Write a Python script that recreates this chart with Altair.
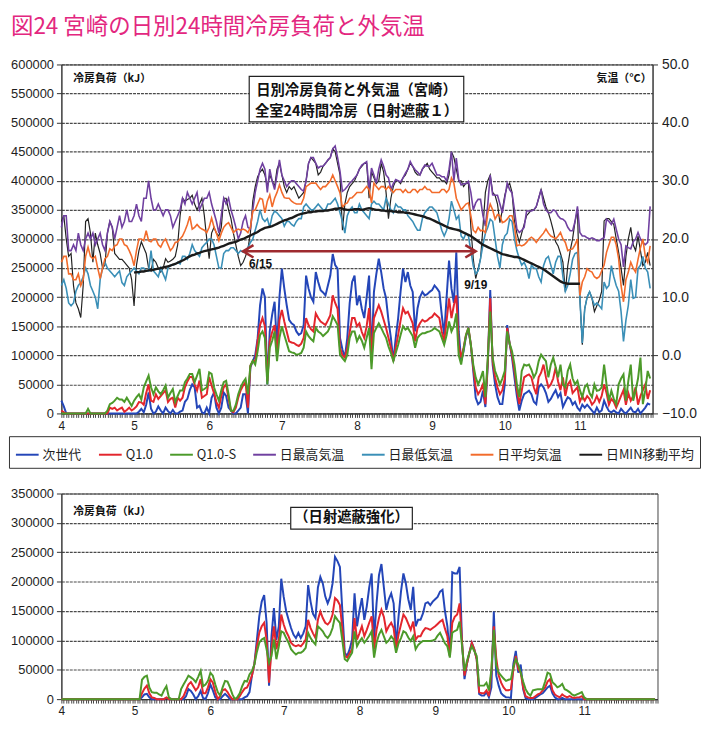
import altair as alt
import pandas as pd

# ---------------- calendar (daily, Apr 1 - Nov 30) ----------------
dates = pd.date_range("2011-04-01", "2011-11-30", freq="D")
N = len(dates)
day = list(range(N))
month_start = [i for i, d in enumerate(dates) if d.day == 1]
month_label = [str(d.month) for d in dates if d.day == 1]

chart_title = "図24 宮崎の日別24時間冷房負荷と外気温"
series_names = ["次世代", "Q1.0", "Q1.0-S", "日最高気温", "日最低気温", "日平均気温", "日MIN移動平均"]
series_colors = ["#2446B8", "#E3262D", "#4C9A2A", "#7040A0", "#3A8FB7", "#F26B2B", "#1A1A1A"]

# ---------------- top panel: daily cooling load (thousand kJ) ----------------
top_jisedai = [
    22, 12, 0, 0, 0, 0, 0, 0, 0, 0, 0, 0, 0, 0, 0, 0, 0, 0, 0, 0, 0, 0, 0, 0, 0, 0, 0, 0, 0, 0,
    0, 0, 3, 8, 2, 15, 36, 8, 0, 3, 12, 5, 0, 10, 4, 0, 6, 0, 0, 3, 5, 20, 25, 40, 50, 45, 10, 13, 2, 0, 10,
    0, 27, 36, 10, 0, 10, 36, 30, 10, 5, 0, 0, 5, 10, 33, 33, 0, 79, 90, 100, 129, 186, 215, 200, 50, 141, 170, 192, 113, 200,
    249, 215, 186, 161, 155, 152, 141, 135, 138, 152, 237, 215, 200, 192, 243, 226, 212, 208, 203, 220, 237, 274, 255, 249, 130, 110, 96, 130, 190, 226, 237,
    186, 203, 180, 164, 200, 237, 96, 209, 240, 266, 243, 215, 198, 160, 130, 90, 130, 164, 210, 249, 226, 243, 220, 209, 141, 181, 200, 209, 203, 205, 209,
    212, 220, 215, 209, 169, 135, 200, 263, 215, 190, 277, 141, 90, 107, 133, 144, 118, 73, 27, 16, 20, 39, 11, 84, 212, 84, 50, 28, 16, 16,
    50, 152, 120, 96, 62, 30, 5, 22, 33, 36, 39, 33, 20, 16, 45, 50, 45, 35, 20, 25, 33, 40, 28, 35, 11, 20, 28, 25, 15, 20, 10,
    5, 15, 10, 15, 10, 5, 0, 10, 2, 5, 22, 12, 4, 2, 5, 2, 0, 8, 3, 0, 5, 10, 3, 2, 8, 0, 5, 10, 17, 15,
]
top_q10 = [
    5, 2, 0, 0, 0, 0, 0, 0, 0, 0, 0, 0, 0, 0, 0, 0, 0, 0, 0, 0, 10, 8, 10, 5, 8, 10, 3, 6, 10, 5,
    8, 12, 19.6, 19, 15, 35, 50, 22, 20, 33, 25, 30, 35, 39.6, 19.6, 25, 27, 10, 27, 22, 27, 45, 55, 62.8, 62.8, 50, 39.6, 56.6, 27, 30, 33,
    62.8, 48, 35, 19.6, 10, 30, 45, 50, 25, 5, 2, 10, 27, 40, 48, 53.8, 10, 82, 90, 90, 125, 152, 164, 150, 56, 124, 140, 152, 101, 160,
    178, 158, 141, 124, 122, 121, 118, 116, 120, 130, 164, 152, 145, 141, 172, 164, 158, 155, 152, 160, 169, 203, 190, 180, 113, 100, 96, 113, 140, 164, 164,
    150, 155, 140, 130, 150, 181, 96, 164, 175, 186, 175, 161, 147, 130, 113, 90, 113, 135, 160, 181, 172, 175, 165, 155, 124, 147, 155, 161, 158, 160, 164,
    166, 172, 168, 164, 141, 124, 160, 198, 164, 186, 203, 118, 96, 113, 135, 147, 118, 79, 45, 33, 40, 50, 16, 90, 198, 90, 62, 45, 33, 40,
    60, 147, 120, 101, 73, 40, 16, 39, 62, 65, 67, 62, 45, 33, 62, 70, 84, 62, 45, 50, 60, 79, 55, 40, 62, 30, 50, 56, 35, 40, 45,
    20, 30, 22, 30, 25, 15, 20, 30, 20, 30, 50, 35, 15, 25, 20, 10, 20, 30, 40, 15, 35, 22, 30, 45, 15, 30, 40, 50, 25, 40,
]
top_q10s = [
    0, 0, 0, 0, 0, 0, 0, 0, 0, 0, 0, 8, 0, 0, 0, 0, 0, 0, 0, 5, 16, 18, 22, 27, 24, 24, 20, 27, 20, 13,
    22, 28, 33, 24, 45, 55, 65, 45, 33, 45, 38, 33, 40, 48, 27, 35, 42, 19.6, 30, 39.6, 39.6, 53.8, 60, 68, 68, 53.8, 65, 76.6, 39.6, 42, 45,
    70.7, 68, 45, 33, 22, 40, 53.8, 56, 33, 4.5, 4.5, 15, 33, 45, 53.8, 59.6, 33, 82, 90.5, 84, 107, 135, 141, 130, 50, 113, 125, 141, 90, 130,
    150, 135, 121, 107, 105, 104, 101, 102, 104, 113, 141, 133, 128, 124, 147, 141, 138, 133, 137, 141, 150, 167, 160, 152, 101, 95, 90, 101, 130, 141, 141,
    124, 133, 125, 113, 130, 147, 76, 138, 147, 155, 147, 138, 130, 115, 104, 90, 104, 118, 135, 150, 144, 147, 140, 133, 113, 130, 135, 138, 138, 140, 141,
    143, 147, 144, 141, 130, 118, 135, 158, 141, 150, 172, 100, 84, 110, 135, 147, 118, 84, 62, 50, 60, 73, 28, 96, 175, 96, 73, 62, 50, 60,
    73, 141, 120, 107, 84, 50, 28, 73, 84, 82, 84, 75, 62, 70, 90, 101, 95, 90, 62, 84, 96, 80, 62, 84, 50, 45, 73, 84, 60, 50, 56,
    40, 28, 45, 50, 35, 28, 50, 39, 40, 45, 84, 50, 22, 39, 25, 16, 50, 60, 67, 22, 56, 84, 22, 39, 60, 96, 16, 40, 73, 60,
]

# ---------------- top panel: outside air temperature (deg C) ----------------
t_max = [
    22, 24, 24, 18, 18, 19, 18, 21, 19, 18, 20, 21, 20, 21, 19, 20, 21, 19, 18, 21, 23, 22, 20, 22, 24, 22, 23, 25, 23, 23,
    24, 26, 24, 23, 27, 27, 30, 27, 25, 25, 26, 25, 24, 25, 25, 24, 22, 23, 24, 25, 27, 26, 28, 27, 26, 27, 28, 25, 26, 27, 27,
    28, 26, 24.5, 23, 21, 24, 27, 26, 27, 25, 23.6, 22, 20, 21, 23, 24, 22, 21.7, 25, 28, 30, 32, 33, 32, 28, 32, 30, 28.5, 31, 33.6,
    31, 30, 29, 29.6, 30, 30, 29.5, 29, 28.5, 28.2, 30, 33, 34, 34, 33, 32.2, 32.5, 32.5, 33, 33.6, 34, 35.5, 36, 34, 31.6, 28.2, 28.5, 29, 29.6, 30, 30.5,
    31, 32, 32.7, 33, 33.3, 28.5, 32.2, 31, 29.6, 32, 33.6, 32.5, 31, 30.5, 28.5, 29.5, 30.2, 30, 29.8, 30.5, 31.3, 32, 33.3, 32.5, 31.9, 31.5, 31, 32, 32.7, 32.5, 32.5,
    33, 32, 31, 31, 30.7, 30.7, 30, 32, 35, 30, 33.9, 30.2, 29.3, 29.5, 29.5, 29.9, 28, 25, 26.2, 26.8, 26.8, 24, 22.2, 26, 31, 27.6, 27.5, 27.5, 26, 24.5,
    27, 29.6, 28.5, 27.9, 25, 21.7, 21.1, 21.5, 22, 24.8, 24.8, 24.8, 25, 25.6, 27, 28.5, 26, 25, 24.5, 24.5, 25, 24.8, 24, 23.5, 23.4, 23, 22, 21.4, 21.4, 23, 25.6,
    21.1, 20.5, 20.5, 20.2, 20, 20.2, 20, 19.7, 19.7, 20, 20.2, 23.4, 23, 22.5, 23.4, 21.7, 20, 19, 15.2, 18.8, 18.5, 18.3, 19.5, 20, 21.1, 20, 19.4, 19, 19.4, 25.6,
]
t_min = [
    12, 13, 11.5, 9, 8.5, 9, 11, 12, 12.5, 13.5, 15, 14, 12, 11, 10, 8, 13, 15, 16, 15, 14.5, 14, 13.5, 14, 14.5, 12.5, 12, 13.5, 14, 14.5,
    15, 14.5, 14, 15, 15, 14.5, 14.5, 18, 14.5, 14, 13.5, 15, 14, 13, 15, 15.5, 15.5, 15.7, 16, 15.7, 17, 17, 16.5, 17.5, 19, 18, 17.5, 17, 18.5, 19, 19.4,
    20, 20, 19, 17, 15, 15, 17.5, 18, 18, 18.5, 18.5, 18, 17.5, 18, 17.7, 18, 18.5, 19.4, 20, 21.5, 23, 25, 23.5, 23, 23.5, 22, 24, 24.8, 24.5, 24,
    23.5, 22.2, 23, 23, 22.5, 22.2, 23, 23.5, 23.5, 25.5, 26, 25.5, 25, 25, 25.5, 26, 25.5, 25, 25, 26, 26, 26.5, 27, 26, 24.5, 23, 21, 24, 25, 25.5, 24.5,
    24.5, 26, 25, 24.5, 24, 23.5, 26, 26.5, 26, 26, 25.5, 25, 27, 26, 25, 24.5, 26, 25.5, 25.5, 25, 25, 24, 23.5, 23, 22.2, 21.5, 21.5, 23.5, 24.5, 25, 25.5,
    25.5, 25, 24.5, 23, 21.5, 20.5, 21.5, 23.5, 26.5, 25, 23.4, 24, 20.5, 20, 21, 20.5, 18, 15.4, 14, 14.5, 16.6, 19, 21, 22, 23.4, 23, 20, 17, 15, 19,
    20.5, 21, 23.4, 23, 20, 18, 16.6, 15.5, 16, 15, 13.2, 15.5, 15, 14.9, 13.5, 12.6, 15.4, 16.6, 17, 15.5, 14, 16, 17, 17, 13.5, 11, 12, 14, 16.5, 17.5, 17.7,
    9.8, 2.1, 8, 10, 10.9, 9.8, 8.6, 9, 8.5, 8, 12.6, 11.5, 12, 15.4, 13.5, 12, 11, 7.5, 2.4, 6, 8.6, 13, 9.8, 10, 14.9, 15.5, 17, 15, 14.3, 11.5,
]
t_avg = [
    16, 17, 17, 14, 14, 13, 13, 14, 12, 13, 17, 18.6, 17, 16.6, 17, 15, 13.2, 15, 16.6, 17, 18.3, 18, 18.8, 19, 20, 20, 19, 18.8, 18, 17,
    15.4, 18, 20, 20, 19.7, 21.4, 19.7, 19.5, 20, 20, 19, 18.6, 19.5, 20, 19, 18, 18.5, 19.4, 19.5, 20, 20.5, 21.4, 22.5, 23.9, 21.7, 22, 22.5, 22, 21.7, 21.5, 21.1,
    22, 23.6, 22, 21, 19.7, 21, 22, 22.5, 22.8, 22, 21.1, 21.5, 21.7, 21.5, 21.7, 21.5, 21.1, 22, 24.8, 25, 26, 27, 26.8, 24.5, 26.5, 27.6, 25.5, 27, 28, 29.3,
    28, 27.1, 27, 27, 26.5, 26.2, 26, 26, 26, 27, 29, 29.3, 29.6, 29.6, 29.6, 29, 28.5, 29, 29, 29.5, 30, 31, 30, 29, 27.9, 25.4, 26, 26.2, 27, 27.1, 27.5,
    28, 28, 28, 28.5, 29, 28.5, 26.2, 29.6, 29, 28.5, 29, 29, 28.5, 29, 28.5, 28, 28.5, 28.5, 28.5, 28, 28.5, 28, 28, 28.5, 28.5, 28, 28.5, 28.5, 29, 28.5, 28.5,
    28, 28, 28, 28, 28.5, 28.5, 28, 28.5, 30.5, 29.6, 27, 26, 25, 25.5, 26, 26.2, 24, 21.5, 21.1, 22, 21.4, 21.5, 21.1, 24.5, 26, 25, 23.4, 24.2, 24, 22.8,
    23, 23.4, 24, 24, 22.2, 18.8, 19, 18.8, 19, 19.4, 20, 20.3, 20, 19.4, 20, 20.5, 21, 21.7, 21, 20.5, 20.3, 20, 20.5, 21.1, 20, 19.4, 18, 18.2, 18.3, 19, 20,
    10.3, 12.6, 13.5, 14.9, 14.5, 14.3, 13.5, 13.2, 13.5, 14.5, 15.5, 17.7, 19, 20.3, 20.3, 19, 16.6, 12, 9.2, 13, 14.3, 16, 15, 14.3, 16.5, 18.5, 20, 17, 16, 18.8,
]
t_min_ma = [None] * 30 + [
    14.2, 14.3, 14.3, 14.4, 14.4, 14.5, 14.6, 14.6, 14.7, 14.8,
    14.9, 15.0, 15.1, 15.2, 15.3, 15.4, 15.6, 15.7, 15.9, 16.1,
    16.3, 16.5, 16.8, 17.0, 17.2, 17.3, 17.5, 17.6, 17.8, 17.9,
    18.0, 18.1, 18.2, 18.3, 18.4, 18.5, 18.7, 18.8, 19.0, 19.2,
    19.3, 19.4, 19.5, 19.7, 19.9, 20.0, 20.2, 20.4, 20.6, 20.8,
    21.0, 21.2, 21.5, 21.7, 21.9, 22.0, 22.1, 22.2, 22.4, 22.6,
    22.8, 23.0, 23.2, 23.3, 23.5, 23.6, 23.8, 24.0, 24.2, 24.3,
    24.4, 24.5, 24.6, 24.6, 24.7, 24.7, 24.8, 24.8, 24.8, 24.9,
    24.9, 25.0, 25.1, 25.2, 25.2, 25.3, 25.2, 25.1, 25.0, 25.0,
    25.0, 25.1, 25.1, 25.1, 25.0, 25.1, 25.2, 25.3, 25.2, 25.1,
    25.0, 25.0, 24.9, 24.9, 24.8, 24.8, 24.8, 24.7, 24.7, 24.6,
    24.6, 24.6, 24.5, 24.5, 24.4, 24.3, 24.2, 24.1, 24.0, 23.9,
    23.8, 23.6, 23.5, 23.3, 23.1, 22.9, 22.7, 22.5, 22.3, 22.1,
    21.9, 21.8, 21.7, 21.6, 21.5, 21.3, 21.1, 20.9, 20.7, 20.5,
    20.2, 19.9, 19.6, 19.3, 19.0, 18.8, 18.6, 18.4, 18.2, 18.0,
    17.8, 17.6, 17.4, 17.3, 17.2, 17.1, 17.0, 16.9, 16.9, 16.8,
    16.6, 16.4, 16.2, 16.0, 15.8, 15.6, 15.4, 15.2, 15.0, 14.8,
    14.5, 14.2, 13.9, 13.6, 13.3, 13.0, 12.7, 12.5, 12.4, 12.3,
    12.3, 12.3, 12.3, 12.3, 12.3,
] + [None] * 29
# thin black trace drawn in the original without a legend entry
t_black = [
    23, 24, 20, 17, 17.5, 12, 9, 8, 6.5, 12, 23, 23.5, 21, 16, 21, 19, 17.5, 15, 15.5, 21, 23, 22, 17.5, 17, 16.5, 16.5, 16, 15.5, 15, 13,
    8.5, 15.5, 18, 19.5, 18.5, 17.5, 15, 14.5, 16.5, 16, 15, 14.3, 15, 16.6, 16, 16.2, 16.5, 17, 19, 24, 27, 26.5, 26.8, 27, 27.5, 26, 25, 26, 27, 24, 20,
    16.6, 21, 22, 21, 20.5, 22, 27, 27, 25, 23.5, 21, 19, 17, 15.4, 16, 17, 18.3, 21, 26.5, 29, 30.7, 31.5, 32, 31, 29, 31, 30, 29, 32, 33,
    31, 29, 28, 29, 28.5, 29, 28, 27, 27.5, 28, 30, 33, 34, 33.5, 33, 31, 31.5, 32.5, 33, 33.5, 34, 35.5, 35, 33, 31, 21.5, 26, 28, 29, 29.5, 30,
    31, 32, 32.5, 33, 33, 27, 31.5, 30.5, 29.5, 30, 33, 31.5, 28, 23.5, 27, 29, 30, 30, 29.5, 30.5, 31, 32, 33, 32.5, 31.5, 31, 31, 32, 32.5, 33, 32,
    31.5, 31, 30.5, 30.5, 30, 30, 29.5, 31, 35, 34, 32, 30, 30, 29, 29.6, 29.6, 22, 16.6, 13.2, 14.9, 16.6, 22, 28, 30, 31, 28, 27.5, 26, 22.8, 25,
    27.5, 29, 29.6, 28, 23, 21, 19.4, 21, 22.5, 24, 24.5, 25, 25, 25.5, 27, 28.5, 27, 25.5, 24.5, 23.1, 21.5, 19.5, 18.8, 17.5, 16, 10.9, 15.4, 18, 20, 23, 25,
    9.8, 1.8, 8, 10, 10.9, 9.8, 7.5, 8.5, 9.5, 11, 23.1, 23.5, 23.5, 23, 22.5, 20, 17.7, 15, 12, 17, 20, 22, 19, 18, 20.5, 18, 15.4, 16, 17.7, 15.4,
]

# ---------------- bottom panel: load with stronger solar shading (thousand kJ) ----------------
bot_jisedai = [
    0, 0, 0, 0, 0, 0, 0, 0, 0, 0, 0, 0, 0, 0, 0, 0, 0, 0, 0, 0, 0, 0, 0, 0, 0, 0, 0, 0, 0, 0,
    0, 0, 0, 3, 8, 9, 3, 0, 0, 0, 0, 0, 0, 2, 0, 0, 0, 0, 0, 0, 0, 5, 17, 14, 8, 0, 5, 14, 2, 0, 10,
    25, 15, 3, 0, 0, 5, 9, 5, 0, 0, 0, 0, 0, 0, 3, 5, 12, 40, 60, 100, 141, 166, 177, 130, 23, 107, 155, 101, 124, 205,
    174, 150, 135, 121, 110, 104, 113, 104, 112, 124, 194, 166, 145, 138, 190, 208, 197, 175, 163, 174, 197, 242, 235, 225, 150, 79, 73.5, 85, 101.5, 180, 124,
    150, 172, 135, 158, 190, 214, 101.5, 163, 211, 230, 190, 152, 170, 180, 163, 90, 140, 183, 214, 197, 170, 152, 191, 124, 135, 135, 146, 163, 165, 160, 166,
    170, 174, 183, 186, 150, 124, 73.5, 216, 214, 214, 225, 96, 34, 60, 79, 96, 85, 68, 9, 6, 6, 12, 3, 20, 149, 40, 23, 10, 6, 3,
    3, 2, 60, 82, 45, 59, 17, 2, 0, 0, 0, 2, 5, 8, 10, 15, 20, 23, 10, 3, 0, 0, 2, 0, 0, 0, 0, 0, 0, 0, 0,
    0, 0, 0, 0, 0, 0, 0, 0, 0, 0, 0, 0, 0, 0, 0, 0, 0, 0, 0, 0, 0, 0, 0, 0, 0, 0, 0, 0, 0, 0,
]
bot_q10 = [
    0, 0, 0, 0, 0, 0, 0, 0, 0, 0, 0, 0, 0, 0, 0, 0, 0, 0, 0, 0, 0, 0, 0, 0, 0, 0, 0, 0, 0, 0,
    0, 0, 0, 10, 18, 23, 10, 3, 2, 0, 0, 0, 0, 3, 0, 0, 0, 0, 0, 0, 5, 15, 25, 29, 22, 15, 20, 34, 10, 10, 20,
    34, 28, 12, 0, 5, 15, 17, 12, 5, 0, 0, 0, 5, 12, 18, 20, 29, 40, 60, 90, 113, 124, 130, 101, 28, 85, 124, 85, 101.5, 144,
    127, 115, 107, 96, 92, 90, 92, 90, 95, 101.5, 135, 121, 112, 104, 135, 149, 138, 130, 127, 132, 144, 172, 168, 160, 120, 73.5, 70.7, 78, 85, 138, 101.5,
    112, 124, 107, 118, 130, 141, 85, 118, 138, 152, 140, 115.5, 124, 130, 121, 85, 110, 127, 144, 138, 128, 118, 132, 101.5, 107, 107, 115.5, 121, 120, 118, 121,
    124, 128, 132, 135, 120, 107, 73.5, 130, 140, 144, 163, 96, 40, 60, 79, 96, 85, 68, 12, 10, 10, 15, 5, 45, 124, 70, 40, 28, 20, 15,
    15, 17, 50, 73.5, 51, 45, 20, 5, 3, 2, 2, 5, 8, 10, 15, 20, 30, 34, 15, 8, 5, 3, 8, 5, 3, 5, 3, 2, 3, 3, 5,
    0, 0, 0, 0, 0, 0, 0, 0, 0, 0, 0, 0, 0, 0, 0, 0, 0, 0, 0, 0, 0, 0, 0, 0, 0, 0, 0, 0, 0, 0,
]
bot_q10s = [
    0, 0, 0, 0, 0, 0, 0, 0, 0, 0, 0, 0, 0, 0, 0, 0, 0, 0, 0, 0, 0, 0, 0, 0, 0, 0, 0, 0, 0, 0,
    0, 0, 0, 33, 38, 40, 20, 12, 11, 11, 8, 6, 15, 22, 3, 0, 0, 0, 0, 17, 25, 32, 40, 37, 34, 29, 38, 48, 22, 25, 31,
    45, 40, 25, 12, 6, 20, 31, 30, 20, 8, 0, 3, 10, 22, 31, 30, 42, 48, 59, 80, 96, 101.5, 104, 85, 62, 73.5, 101.5, 68, 90, 115.5,
    113, 104, 96, 85, 80, 76, 79, 79, 82, 87.5, 113, 104, 98, 93, 124, 120, 115.5, 108, 104, 110, 121, 141, 135, 130, 100, 68, 65, 72, 79, 115.5, 90,
    98, 104, 96, 101.5, 108, 115.5, 70.7, 96, 110, 118, 107, 96, 100, 107, 101.5, 79, 95, 104, 115.5, 113, 105, 99, 107, 85, 92, 96, 99, 99, 99, 99, 100,
    101.5, 108, 113, 104, 95, 90, 70.7, 113, 116, 118, 132, 90, 48, 65, 79, 90, 82, 73.5, 23, 23, 23, 28, 15, 50, 118, 57, 45, 40, 35, 31,
    33, 34, 55, 68, 59, 45, 30, 17, 10, 6, 15, 16, 17, 17, 17, 30, 45, 43, 29, 25, 20, 22, 26, 17, 15, 12, 8, 6, 8, 10, 12,
    3, 0, 0, 0, 0, 0, 0, 0, 0, 0, 0, 0, 0, 0, 0, 0, 0, 0, 0, 0, 0, 0, 0, 0, 0, 0, 0, 0, 0, 0,
]

arrow_start_date = "2011-06-15"
arrow_end_date = "2011-09-19"
arrow_start_label = "6/15"
arrow_end_label = "9/19"


def fit(a):
    a = list(a)[:N]
    return a + [None] * (N - len(a))


def long_frame(pairs, col, scale=1.0):
    rows = []
    for name, arr in pairs:
        for d, v in zip(day, fit(arr)):
            if v is not None:
                rows.append({"day": d, "series": name, col: v * scale})
    return pd.DataFrame(rows)


df_top_load = long_frame([("次世代", top_jisedai), ("Q1.0", top_q10), ("Q1.0-S", top_q10s)], "load", 1000)
df_temp = long_frame([("日最高気温", t_max), ("日最低気温", t_min), ("日平均気温", t_avg)], "temp")
df_ma = long_frame([("日MIN移動平均", t_min_ma)], "temp")
df_black = long_frame([("thin", t_black)], "temp")
df_bot_load = long_frame([("次世代", bot_jisedai), ("Q1.0", bot_q10), ("Q1.0-S", bot_q10s)], "load", 1000)

arrow_df = pd.DataFrame({
    "day": [(pd.Timestamp(arrow_start_date) - dates[0]).days],
    "end": [(pd.Timestamp(arrow_end_date) - dates[0]).days],
    "start_label": [arrow_start_label],
    "end_label": [arrow_end_label],
})

# ---------------- styling ----------------
JP = "Noto Sans CJK JP"
LAT = "Liberation Sans"
INK = "#1E1E1E"
ARROW = "#9E2A2F"
TITLE_COLOR = "#E3277F"
W_TOP, H_TOP = 598, 353
W_BOT, H_BOT = 603, 208

color_scale = alt.Scale(domain=series_names, range=series_colors)
x_scale = alt.Scale(domain=[0, N], nice=False, zero=False)

label_expr = (
    f"indexof({month_start}, datum.value) >= 0 ? "
    f"{month_label}[indexof({month_start}, datum.value)] : ''"
)
x_axis = alt.Axis(
    values=list(range(N + 1)), labelExpr=label_expr, grid=False, title=None,
    tickSize=4, tickColor="#444", domainColor="#333", labelFont=LAT, labelFontSize=12,
    labelColor=INK, labelPadding=3, labelFlush=False, labelOverlap=False,
)


def y_left(maxv):
    return alt.Axis(
        values=list(range(0, maxv + 1, 50000)), format="d", grid=True, gridColor="#4a4a4a",
        gridWidth=1.2, gridDash=[3, 1], tickSize=5, tickColor="#333", domainColor="#333",
        labelFont=LAT, labelFontSize=13, labelColor=INK, labelPadding=3, title=None, orient="left",
    )


y_right = alt.Axis(
    values=[-10, 0, 10, 20, 30, 40, 50], format=".1f", grid=False, tickSize=5, tickColor="#333",
    domainColor="#333", labelFont=LAT, labelFontSize=14, labelColor=INK, labelPadding=4,
    title=None, orient="right",
)

legend = alt.Legend(
    orient="none", legendX=-53, legendY=376, direction="horizontal", title=None,
    symbolType="stroke", symbolSize=529, symbolStrokeWidth=2, labelFont=JP, labelFontSize=13,
    labelColor=INK, columnPadding=13, padding=6, strokeColor="#333", labelOffset=3,
)

x_top = alt.X("day:Q", scale=x_scale, axis=x_axis)
y_temp = alt.Y("temp:Q", scale=alt.Scale(domain=[-10, 50], nice=False, zero=False), axis=y_right)

top_loads = alt.Chart(df_top_load).mark_line(strokeWidth=2).encode(
    x=x_top,
    y=alt.Y("load:Q", scale=alt.Scale(domain=[0, 600000], nice=False), axis=y_left(600000)),
    color=alt.Color("series:N", scale=color_scale, legend=legend),
)
thin_black = alt.Chart(df_black).mark_line(strokeWidth=1.2, color="#222").encode(x=x_top, y=y_temp)
temps = alt.Chart(df_temp).mark_line(strokeWidth=1.6).encode(
    x=x_top, y=y_temp, color=alt.Color("series:N", scale=color_scale, legend=legend)
)
min_ma = alt.Chart(df_ma).mark_line(strokeWidth=2.4).encode(
    x=x_top, y=y_temp, color=alt.Color("series:N", scale=color_scale, legend=legend)
)
temp_layer = alt.layer(thin_black, temps, min_ma)


def txt(text, x, y, size, align="left", weight="normal", font=JP, color="#111"):
    return alt.Chart(pd.DataFrame({"t": [text]})).mark_text(
        align=align, baseline="middle", font=font, fontSize=size, fontWeight=weight, color=color
    ).encode(x=alt.value(x), y=alt.value(y), text="t:N")


def box(x1, x2, y1, y2):
    return alt.Chart(pd.DataFrame({"b": [0]})).mark_rect(
        fill="white", stroke="#222", strokeWidth=1.2
    ).encode(x=alt.value(x1), x2=alt.value(x2), y=alt.value(y1), y2=alt.value(y2))


arrow_y = 189
x_end = alt.X("end:Q", scale=x_scale, axis=x_axis)
arrow_rule = alt.Chart(arrow_df).mark_rule(color=ARROW, strokeWidth=2.5).encode(
    x=x_top, x2="end:Q", y=alt.value(arrow_y)
)
head_l = alt.Chart(arrow_df).mark_point(
    shape="M 2 -1.2 L 0 0 L 2 1.2", size=110, filled=False, strokeWidth=2.5, color=ARROW, opacity=1
).encode(x=x_top, y=alt.value(arrow_y))
head_r = alt.Chart(arrow_df).mark_point(
    shape="M -2 -1.2 L 0 0 L -2 1.2", size=110, filled=False, strokeWidth=2.5, color=ARROW, opacity=1
).encode(x=x_end, y=alt.value(arrow_y))
lab_l = alt.Chart(arrow_df).mark_text(
    align="left", baseline="middle", dx=6, font=LAT, fontSize=12, fontWeight="bold", color="#111"
).encode(x=x_top, y=alt.value(202), text="start_label:N")
lab_r = alt.Chart(arrow_df).mark_text(
    align="center", baseline="middle", font=LAT, fontSize=12, fontWeight="bold", color="#111"
).encode(x=x_end, y=alt.value(223), text="end_label:N")

top = alt.layer(
    top_loads, temp_layer,
    txt(chart_title, -51, -38, 22.7, color=TITLE_COLOR),
    box(190, 407, 12, 58),
    txt("日別冷房負荷と外気温（宮崎）", 298.5, 27, 14.5, align="center", weight="bold"),
    txt("全室24時間冷房（日射遮蔽１）", 298.5, 48, 14.5, align="center", weight="bold"),
    txt("冷房負荷（kJ）", 12, 15, 11, weight="bold"),
    txt("気温（°C）", 597, 15, 11, align="right", weight="bold"),
    arrow_rule, head_l, head_r, lab_l, lab_r,
).resolve_scale(y="independent").properties(width=W_TOP, height=H_TOP)

bot_lines = alt.Chart(df_bot_load).mark_line(strokeWidth=2).encode(
    x=alt.X("day:Q", scale=x_scale, axis=x_axis),
    y=alt.Y("load:Q", scale=alt.Scale(domain=[0, 350000], nice=False), axis=y_left(350000)),
    color=alt.Color("series:N", scale=color_scale, legend=None),
)
bottom = alt.layer(
    bot_lines,
    box(232, 355, 14, 36),
    txt("（日射遮蔽強化）", 293.5, 25, 14.5, align="center", weight="bold"),
    txt("冷房負荷（kJ）", 12, 19, 11, weight="bold"),
).properties(width=W_BOT, height=H_BOT)

chart = alt.vconcat(top, bottom, spacing=18).resolve_scale(color="independent").properties(
    padding={"top": 3, "left": 0, "right": 0, "bottom": 0},
    background="white",
).configure_view(stroke="#444", strokeWidth=1)

chart.save("out.html", embed_options={"renderer": "svg", "actions": False})
